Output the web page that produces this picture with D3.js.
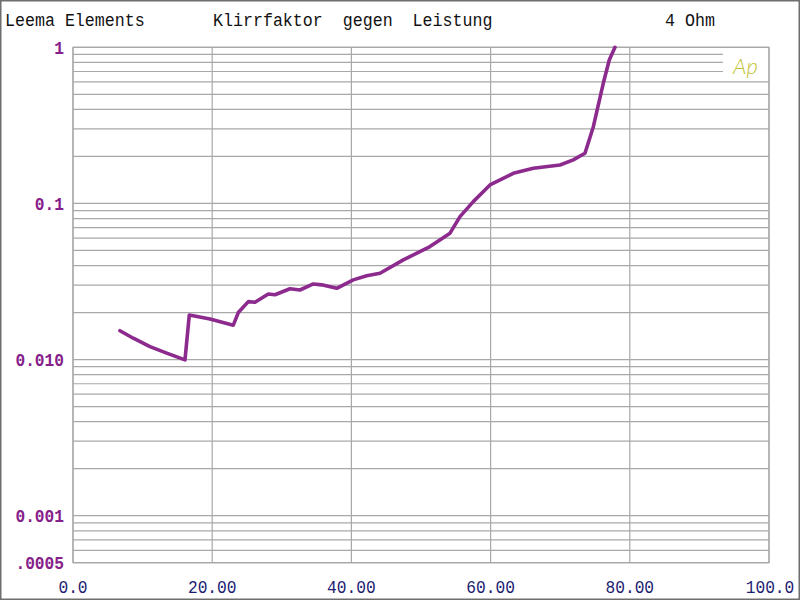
<!DOCTYPE html>
<html><head><meta charset="utf-8">
<script src="https://cdn.jsdelivr.net/npm/d3@7"></script>
<style>body{margin:0;background:#fff}svg{display:block}</style>
</head><body>
<svg id="c" width="800" height="600"></svg>
<script>
// Data: output power (W) vs THD (fraction of 1 scale as printed)
const powerW = [6.75, 8.66, 11.06, 13.46, 16.09, 16.71, 19.68, 23.03, 23.75, 25.19, 26.15, 28.06, 29.02, 31.18, 32.61, 34.53, 35.73, 37.89, 40.27, 42.20, 44.11, 47.46, 51.29, 54.17, 55.60, 57.51, 59.91, 63.26, 66.14, 69.97, 71.88, 73.56, 74.76, 76.19, 77.05, 77.87];
const thd = [0.0153, 0.0137, 0.0121, 0.0110, 0.00995, 0.0193, 0.0182, 0.0166, 0.0200, 0.0235, 0.0233, 0.0263, 0.0260, 0.0284, 0.0279, 0.0305, 0.0301, 0.0286, 0.0324, 0.0344, 0.0357, 0.0435, 0.0529, 0.0645, 0.0823, 0.1027, 0.1313, 0.156, 0.168, 0.1764, 0.190, 0.2096, 0.310, 0.588, 0.829, 1.0];
const xTicks = [0, 20, 40, 60, 80, 100];
const xTickLabels = ["0.0", "20.00", "40.00", "60.00", "80.00", "100.0"];
const yTicks = [1, 0.1, 0.01, 0.001, 0.0005];
const yTickLabels = ["1", "0.1", "0.010", "0.001", ".0005"];
const titleLeft = "Leema Elements";
const titleMid = "Klirrfaktor  gegen  Leistung";
const titleRight = "4 Ohm";

const svg = d3.select("#c");
const L = 73, R = 769, T = 47.3, B = 562.7;
const x = d3.scaleLinear().domain([0, 100]).range([L, R]);
const y = d3.scaleLog().domain([0.0005, 1]).range([B, T]);

svg.append("rect").attr("x", 0).attr("y", 0).attr("width", 800).attr("height", 600).attr("fill", "#fff");
svg.append("rect").attr("x", 0.75).attr("y", 0.75).attr("width", 798.5).attr("height", 598.5)
  .attr("fill", "none").attr("stroke", "#6e6e6e").attr("stroke-width", 1.5);

// grid
const grid = svg.append("g").attr("stroke", "#a8a8a8").attr("stroke-width", 1.2);
const minor = [];
for (let e = -4; e <= -1; e++) for (let m = 1; m <= 9; m++) {
  const v = m * Math.pow(10, e);
  if (v >= 0.0005 - 1e-12 && v <= 1 + 1e-12) minor.push(v);
}
minor.push(1);
minor.forEach(v => {
  const xr = (v >= 0.65 && v < 0.95) ? 723 : R;
  grid.append("line").attr("x1", L).attr("x2", xr).attr("y1", y(v)).attr("y2", y(v));
});
xTicks.forEach(t => {
  grid.append("line").attr("x1", x(t)).attr("x2", x(t)).attr("y1", T).attr("y2", B);
});
grid.append("rect").attr("x", L).attr("y", T).attr("width", R - L).attr("height", B - T).attr("fill", "none");

// logo
svg.append("text").attr("x", 733).attr("y", 74).text("Ap")
  .attr("font-family", "Lato, Liberation Sans, sans-serif").attr("font-style", "italic")
  .attr("font-size", 22).attr("fill", "#c2c232").attr("font-weight", 300);

// titles (condensed, tall monospace look)
const tf = "Liberation Mono, DejaVu Sans Mono, monospace";
function condText(tx, ty, s, opts) {
  const g = svg.append("g").attr("transform", `translate(${tx},${ty}) scale(0.9,1)`);
  const t = g.append("text").attr("x", 0).attr("y", 0).text(s)
    .attr("font-family", tf).attr("font-size", opts.size).attr("fill", opts.fill)
    .attr("font-weight", opts.weight || "normal")
    .attr("text-anchor", opts.anchor || "start").attr("dy", opts.dy || 0)
    .style("white-space", "pre");
  return t;
}
[[5, titleLeft], [213, titleMid], [665, titleRight]].forEach(([tx, s]) => {
  condText(tx, 26, s, { size: 18.5, fill: "#111" });
});

// y labels
yTicks.forEach((t, i) => {
  condText(64, y(t), yTickLabels[i], { size: 18, fill: "#86208a", weight: "bold", anchor: "end", dy: "0.35em" });
});
// x labels
xTicks.forEach((t, i) => {
  condText(x(t) + (i === 5 ? 1 : 0), 587, xTickLabels[i], { size: 18, fill: "#1c1c72", anchor: "middle", dy: "0.35em" });
});

// curve
const pts = powerW.map((p, i) => [p, thd[i]]);
svg.append("path").datum(pts)
  .attr("d", d3.line().x(d => x(d[0])).y(d => y(d[1])))
  .attr("fill", "none").attr("stroke", "#8c2a8e").attr("stroke-width", 3.6)
  .attr("stroke-linejoin", "round").attr("stroke-linecap", "round");
</script>
</body></html>
